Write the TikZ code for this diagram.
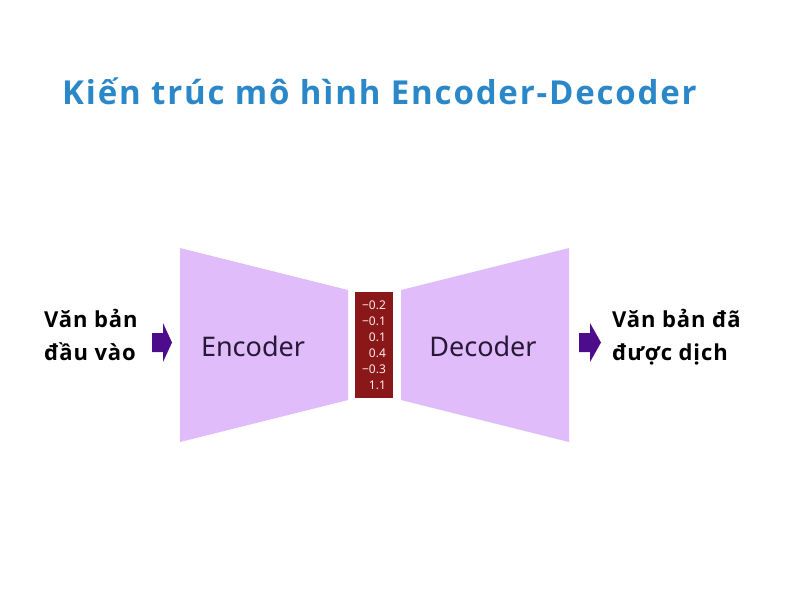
\documentclass[tikz,border=0pt]{standalone}
\usepackage{fontspec}
\setmainfont{Open Sans}
\newfontfamily\labelfont{Noto Sans}
\usepackage{tikz}
\usetikzlibrary{shapes}
\definecolor{titleblue}{RGB}{42,136,200}
\definecolor{lilac}{RGB}{224,188,250}
\definecolor{arrowpurple}{RGB}{76,12,140}
\definecolor{vecred}{RGB}{139,24,24}
\definecolor{labelink}{RGB}{40,24,56}
\tikzstyle{title}=[anchor=base west,inner sep=0,text=titleblue,font=\fontsize{33}{40}\selectfont\bfseries\addfontfeatures{LetterSpace=5.5}]
\tikzstyle{side}=[anchor=base west,inner sep=0,align=left,font=\fontsize{22}{33}\selectfont\bfseries\addfontfeatures{LetterSpace=4}]
\tikzstyle{block}=[fill=lilac]
\tikzstyle{blocklabel}=[inner sep=0,text=labelink,font=\labelfont\fontsize{27}{32}\selectfont]
\tikzstyle{vector}=[rectangle,fill=vecred,text=white!92!red,minimum width=38,minimum height=106,inner sep=0,align=right,font=\labelfont\fontsize{12}{16}\selectfont]
\tikzstyle{fatarrow}=[fill=arrowpurple]

\begin{document}
\begin{tikzpicture}[x=1pt,y=-1pt]
      \useasboundingbox (0,0) rectangle (800,600);
      \node[title] at (62,104) (head) {Kiến trúc mô hình Encoder-Decoder};
      % encoder / decoder blocks
      \fill[block] (180,248) -- (348,290) -- (348,400) -- (180,442) -- cycle;
      \fill[block] (401,290) -- (569,248) -- (569,442) -- (401,400) -- cycle;
      \node[blocklabel] at (253,346) (enc) {Encoder};
      \node[blocklabel] at (483,346) (dec) {Decoder};
      \node[vector] at (374,345) (ctx) {−0.2\\−0.1\\0.1\\0.4\\−0.3\\1.1};
      % input / output
      \node[side] at (44,360) (src) {Văn bản\\đầu vào};
      \node[side] at (612,360) (tgt) {Văn bản đã\\được dịch};
      \fill[fatarrow] (152,333) -- (163,333) -- (163,323) -- (172,342.5) -- (163,362) -- (163,352) -- (152,352) -- cycle;
      \fill[fatarrow] (579,333) -- (590,333) -- (590,323) -- (601,342.5) -- (590,362) -- (590,352) -- (579,352) -- cycle;
    \end{tikzpicture}
\end{document}
